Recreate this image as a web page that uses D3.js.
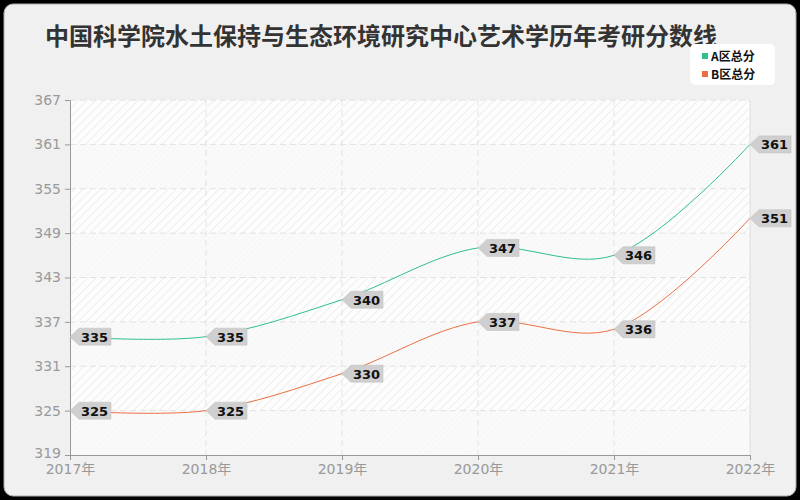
<!DOCTYPE html>
<html>
<head>
<meta charset="utf-8">
<script src="https://cdn.jsdelivr.net/npm/d3@7"></script>
<style>
  body { margin: 0; background: #000; }
  svg { display: block; }
</style>
</head>
<body>
<div id="chart"></div>
<script>
// Chart data
const years = ["2017年", "2018年", "2019年", "2020年", "2021年", "2022年"];
const seriesNames = ["A区总分", "B区总分"];
const scoresA = [335, 335, 340, 347, 346, 361];
const scoresB = [325, 325, 330, 337, 336, 351];
const yTicks = [319, 325, 331, 337, 343, 349, 355, 361, 367];
const colors = ["#2fbf8f", "#ec6f43"];

const width = 800, height = 500;
const margin = { left: 70, right: 50, top: 100, bottom: 45 };
const numFont = "'DejaVu Sans', 'Noto Sans CJK SC', sans-serif";

const svg = d3.select("#chart").append("svg")
  .attr("width", width)
  .attr("height", height)
  .style("font-family", "'Noto Sans CJK SC', 'DejaVu Sans', sans-serif");

// card background
svg.append("rect").attr("width", width).attr("height", height).attr("fill", "#000");
svg.append("rect")
  .attr("x", 4).attr("y", 4).attr("width", width - 8).attr("height", height - 8)
  .attr("rx", 9).attr("fill", "#f0f0f0").attr("stroke", "#aaa").attr("stroke-width", 1);

const x = d3.scalePoint().domain(years).range([margin.left, width - margin.right]);
const y = d3.scaleLinear().domain([319, 367]).range([height - margin.bottom, margin.top]);

// hatch pattern
const defs = svg.append("defs");
const pat = defs.append("pattern")
  .attr("id", "hatch").attr("patternUnits", "userSpaceOnUse")
  .attr("width", 6).attr("height", 6)
  .attr("patternTransform", "rotate(45)");
pat.append("rect").attr("width", 6).attr("height", 6).attr("fill", "#fdfdfd");
pat.append("line").attr("x1", 0).attr("y1", 0).attr("x2", 0).attr("y2", 6)
  .attr("stroke", "#e9e9e9").attr("stroke-width", 1.5);

const pat2 = defs.append("pattern")
  .attr("id", "hatch2").attr("patternUnits", "userSpaceOnUse")
  .attr("width", 4).attr("height", 4)
  .attr("patternTransform", "rotate(45)");
pat2.append("rect").attr("width", 4).attr("height", 4).attr("fill", "#fafafa");
pat2.append("line").attr("x1", 0).attr("y1", 0).attr("x2", 0).attr("y2", 4)
  .attr("stroke", "#f3f3f3").attr("stroke-width", 1);

// alternating bands
for (let i = 0; i < yTicks.length - 1; i++) {
  svg.append("rect")
    .attr("x", margin.left)
    .attr("y", y(yTicks[i + 1]))
    .attr("width", width - margin.right - margin.left)
    .attr("height", y(yTicks[i]) - y(yTicks[i + 1]))
    .attr("fill", i % 2 === 0 ? "url(#hatch2)" : "url(#hatch)");
}

// grid lines
svg.append("g").selectAll("line").data(yTicks.slice(1))
  .join("line")
  .attr("x1", margin.left).attr("x2", width - margin.right)
  .attr("y1", d => y(d)).attr("y2", d => y(d))
  .attr("stroke", "#e2e2e2").attr("stroke-dasharray", "6,4");
svg.append("g").selectAll("line").data(years.slice(1))
  .join("line")
  .attr("x1", d => x(d)).attr("x2", d => x(d))
  .attr("y1", margin.top).attr("y2", height - margin.bottom)
  .attr("stroke", d => d === years[years.length - 1] ? "#ddd" : "#e2e2e2")
  .attr("stroke-dasharray", d => d === years[years.length - 1] ? null : "6,4");

// axes
const yAxis = svg.append("g")
  .attr("transform", `translate(${margin.left},0)`)
  .call(d3.axisLeft(y).tickValues(yTicks).tickSize(5).tickPadding(4));
const xAxis = svg.append("g")
  .attr("transform", `translate(0,${height - margin.bottom})`)
  .call(d3.axisBottom(x).tickSize(5).tickPadding(4));
[yAxis, xAxis].forEach(a => {
  a.select(".domain").attr("stroke", "#999");
  a.selectAll(".tick line").attr("stroke", "#999");
  a.selectAll("text").attr("fill", "#999").style("font-size", "14px")
    .style("font-family", numFont);
});
// lift the lowest y label a touch so it clears the first year label
yAxis.selectAll(".tick text").filter(d => d === yTicks[0]).attr("dy", "0.2em");

// lines
const line = d3.line()
  .x((d, i) => x(years[i]))
  .y(d => y(d))
  .curve(d3.curveCatmullRom.alpha(0.5));

[scoresA, scoresB].forEach((s, k) => {
  svg.append("path").datum(s)
    .attr("d", line)
    .attr("fill", "none")
    .attr("stroke", colors[k])
    .attr("stroke-width", 1);
});

// value tags
[scoresA, scoresB].forEach(s => {
  const g = svg.append("g").selectAll("g").data(s).join("g")
    .attr("transform", (d, i) => `translate(${x(years[i])},${y(d)})`);
  g.append("path")
    .attr("d", "M0,0 L9,-8.5 L41,-8.5 L41,8.5 L9,8.5 Z")
    .attr("fill", "#cfcfcf")
    .attr("stroke", "#bdbdbd")
    .attr("stroke-width", 0.5);
  g.append("text")
    .attr("x", 11).attr("y", 5)
    .attr("font-size", 13).attr("font-weight", "bold")
    .attr("fill", "#111")
    .style("font-family", numFont)
    .text(d => d);
});

// title
svg.append("text")
  .attr("x", 45).attr("y", 45)
  .attr("font-size", 24).attr("font-weight", "bold")
  .attr("fill", "#333")
  .text("中国科学院水土保持与生态环境研究中心艺术学历年考研分数线");

// legend
const lg = svg.append("g").attr("transform", "translate(690,44)");
lg.append("rect").attr("width", 85).attr("height", 41).attr("rx", 5).attr("fill", "#fff");
seriesNames.forEach((n, i) => {
  lg.append("rect").attr("x", 12).attr("y", 9 + i * 18).attr("width", 6).attr("height", 6)
    .attr("fill", colors[i]);
  lg.append("text").attr("x", 21).attr("y", 17 + i * 18)
    .attr("font-size", 12).attr("font-weight", "bold").attr("fill", "#111")
    .text(n);
});
</script>
</body>
</html>
